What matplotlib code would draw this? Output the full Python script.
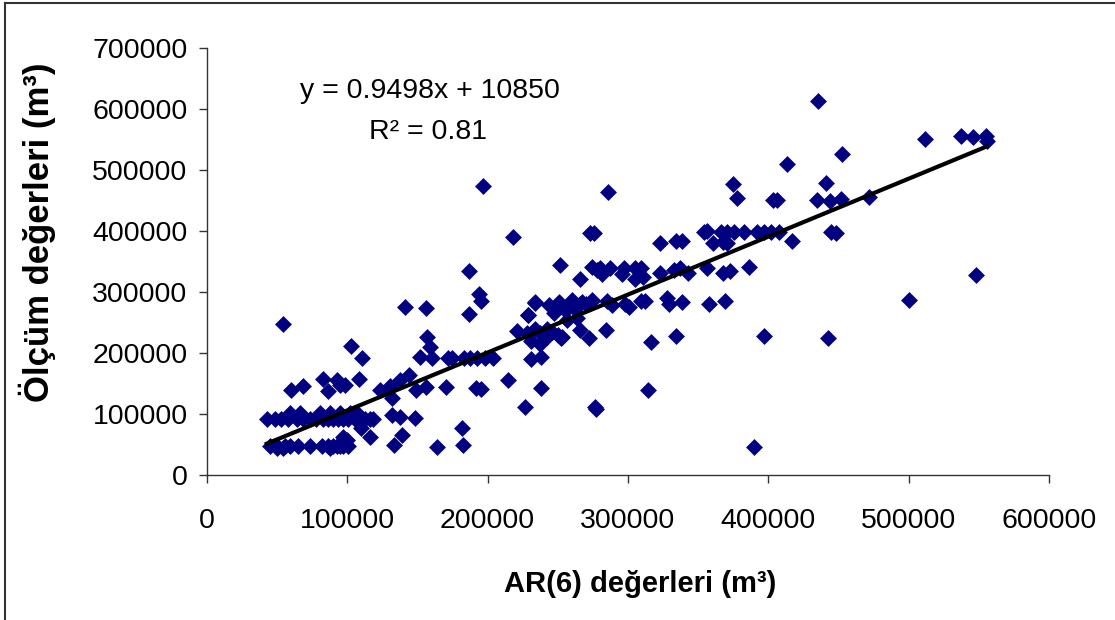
import numpy as np
import matplotlib
matplotlib.use('Agg')
import matplotlib.pyplot as plt
from matplotlib.lines import Line2D

ar6_k = [
    42.6, 48.5, 53, 58, 64, 68.7, 73.5, 78, 83, 86.5, 90, 93.6, 97, 100.8, 105.6, 109, 112.7, 116, 118.6,
    59, 66, 80.6, 87.7, 94.9, 102, 106.8,
    45, 49.7, 55.6, 59, 65, 73.5, 82, 86.5, 90, 92.5, 95, 97, 100.8, 50, 54, 88, 97, 99.7,
    54.5, 102.5, 110.8, 59.7, 68.7, 82.4, 86.5, 92.4, 94.9, 98.4, 108, 123.4, 130.6, 137.7, 143.6, 132,
    141, 156, 157, 159, 152, 160, 149, 156, 170, 172, 110, 116, 131.7, 137.7, 148, 139, 133, 164,
    181.6, 182.6,
    174.6, 183, 187.6, 192.4, 198.3, 204,
    187, 194, 195.5, 187, 196.7, 218, 214.7, 192, 195, 226.8, 276.5, 277.5, 238, 231, 238,
    221, 228, 234, 237, 242, 246, 250, 231, 237, 242, 252, 253, 228.8, 233.9, 234, 243.5, 250.6, 260,
    267, 274, 229, 247, 256.6, 263.7, 266, 272, 251.8, 273, 275.7, 274, 278, 266,
    255, 258, 262, 270,
    285.8, 374.8, 378, 403, 406, 322.5, 334, 338.6, 354, 356.5, 360.7, 366, 370.7, 375.5, 382.6, 368,
    370.7, 392, 397, 401.6, 407.6, 417, 280, 287.5, 297, 305, 309, 281.6, 296, 305, 311, 323, 332.7,
    337, 343, 356.5, 368, 373, 386, 266, 274, 285, 288.7, 298, 300.5, 309, 312, 328, 329, 338.6, 357.6,
    369, 284, 316.5, 334, 397,
    442.5, 452.7, 413, 441, 435, 444, 451.6, 445, 448, 435.4, 472, 511.5, 537, 546, 555, 555.7, 548,
    500, 390, 314,
]
olcum_k = [
    91, 91, 91, 91, 91, 91, 91, 91, 91, 91, 91, 91, 91, 91, 91, 91, 91, 91, 91,
    101, 101, 101, 101, 101, 101, 101,
    48, 48, 48, 48, 48, 48, 48, 48, 48, 48, 48, 48, 48, 44, 44, 44, 62.8, 57,
    247.5, 211, 191, 140, 146, 157, 138, 155.7, 147.5, 147.5, 157, 140, 146, 155.7, 164, 125.7,
    276, 273, 225.7, 210, 193, 191, 140, 143.7, 143.7, 191, 76.5, 62.8, 98, 95.5, 93, 65.5, 49, 46.4,
    76.7, 48.8,
    192, 192, 192, 192, 192, 192,
    335, 297, 286, 264, 474, 389.6, 155.7, 143, 141, 111, 111, 107.7, 143, 189.6, 193,
    236, 232, 239, 232, 240, 235, 230, 220, 215, 226, 224, 227, 263, 282.7, 283.5, 279, 284, 287,
    284, 287, 262, 265, 254, 257, 238, 224, 344, 396, 396, 341, 336, 321,
    270, 276, 272, 280,
    464, 477, 454.6, 450.7, 450.7, 380, 384, 384, 398, 400, 380, 398, 398, 398, 398, 382,
    380, 399, 399, 399, 399, 384, 340, 340, 340, 340, 340, 329, 329, 322, 325, 330.6, 336,
    339, 330.6, 340, 330.6, 335, 341, 281, 286, 286, 279, 281, 276, 286, 286, 289.6, 281, 284, 280,
    286, 238, 217.5, 228, 228,
    225, 526, 510, 478, 451, 449.6, 452, 399, 396, 613, 455, 551.5, 555.6, 553.5, 555.6, 548, 328,
    287, 46, 140,
]

# Linear trend reported on the chart
slope = 0.9498
intercept = 10850
equation_text = 'y = 0.9498x + 10850'
r2_text = 'R² = 0.81'

x = np.array(ar6_k) * 1000
y = np.array(olcum_k) * 1000

plt.rcParams['font.family'] = ['Liberation Sans', 'DejaVu Sans']

fig = plt.figure(figsize=(11.15, 6.2), dpi=100)
ax = fig.add_axes([207 / 1115, 1 - 475 / 620, (1049 - 207) / 1115, (475 - 48) / 620])

ax.scatter(x, y, marker='D', s=74, color='#000080', linewidths=0, zorder=2)

# trend line over the range of the data
line_x = np.array([x.min(), x.max()])
ax.plot(line_x, slope * line_x + intercept, color='black', linewidth=3, zorder=3)

ax.set_xlim(0, 600000)
ax.set_ylim(0, 700000)
ax.set_xticks(np.arange(0, 600001, 100000))
ax.set_yticks(np.arange(0, 700001, 100000))
ax.xaxis.set_major_formatter(matplotlib.ticker.FuncFormatter(lambda v, p: f'{int(v)}'))
ax.yaxis.set_major_formatter(matplotlib.ticker.FuncFormatter(lambda v, p: f'{int(v)}'))
ax.tick_params(axis='x', direction='out', length=6, width=1, labelsize=20.5, pad=18, color='#333333')
ax.tick_params(axis='y', direction='out', length=6, width=1, labelsize=20.5, pad=8, color='#333333')
for side in ['top', 'right']:
    ax.spines[side].set_visible(False)
for side in ['left', 'bottom']:
    ax.spines[side].set_color('#333333')
    ax.spines[side].set_linewidth(1)

# equation and R2
fig.text(430 / 1115, 1 - 91 / 620, equation_text, ha='center', va='center', fontsize=20.5)
fig.text(428 / 1115, 1 - 132 / 620, r2_text, ha='center', va='center', fontsize=20.5)

# axis titles
fig.text(640 / 1115, 1 - 584 / 620, 'AR(6) değerleri (m³)', ha='center', va='center',
         fontsize=21, fontweight='bold')
fig.text(37 / 1115, 1 - 232 / 620, 'Ölçüm değerleri (m³)', ha='center', va='center',
         fontsize=25, fontweight='bold', rotation=90)

# chart area border (top and left edges visible)
fig.add_artist(Line2D([5 / 1115, 1], [1 - 3 / 620, 1 - 3 / 620], transform=fig.transFigure,
                      color='#333333', linewidth=1.5))
fig.add_artist(Line2D([5 / 1115, 5 / 1115], [0, 1 - 3 / 620], transform=fig.transFigure,
                      color='#333333', linewidth=1.5))

fig.savefig('out.png', dpi=100)
